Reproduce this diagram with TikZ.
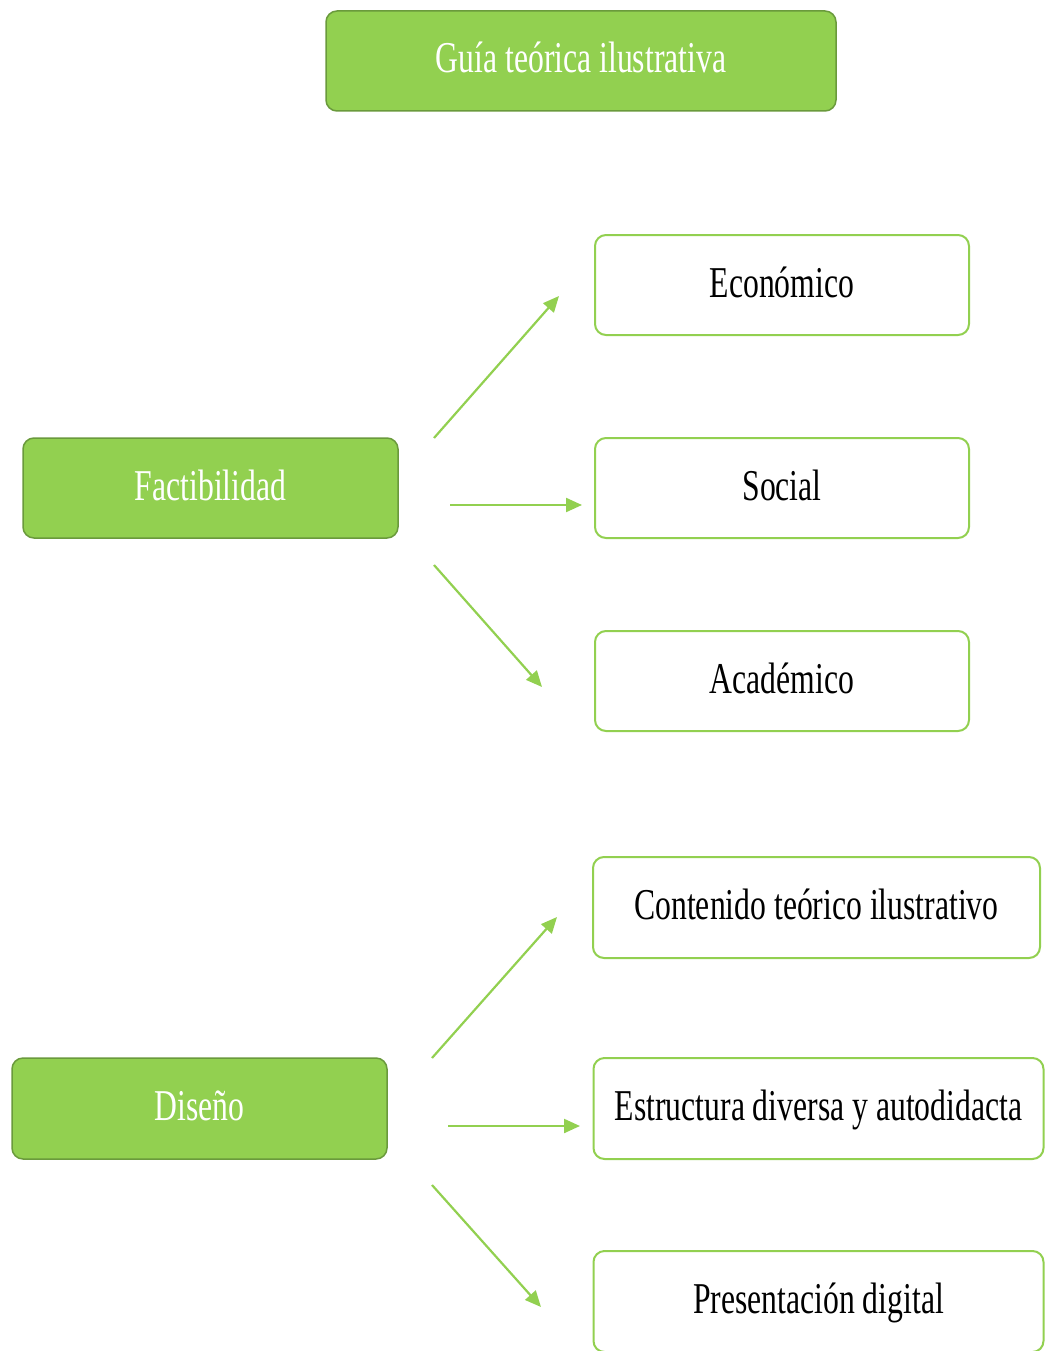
\documentclass[tikz,border=0pt]{standalone}
\usepackage{fontspec}
\setmainfont{Liberation Serif}[FakeStretch=0.72]
\usetikzlibrary{arrows.meta}
\definecolor{lgreen}{HTML}{92D050}
\definecolor{dgreen}{HTML}{6A9A3C}
\tikzset{
  boxtext/.style={inner sep=0pt, text height=32pt, text depth=8pt, font=\fontsize{44}{50}\selectfont},
  mainbox/.style={boxtext, draw=dgreen, line width=1.5pt, fill=lgreen, rounded corners=11pt, text=white},
  subbox/.style={boxtext, draw=lgreen, line width=2pt, fill=white, rounded corners=11pt, text=black},
  conn/.style={draw=lgreen, line width=2.2pt, -{Triangle[length=16pt,width=14pt]}}
}
\begin{document}
\begin{tikzpicture}[x=1pt,y=-1pt]
\useasboundingbox (0,0) rectangle (1045,1351);
\node[mainbox, minimum width=510pt, minimum height=100pt] (guia) at (581,61) {Guía teórica ilustrativa};
\node[mainbox, minimum width=375pt, minimum height=100pt] (fact) at (210.5,488) {Factibilidad};
\node[mainbox, minimum width=375pt, minimum height=101pt] (dis) at (199.5,1108.5) {Diseño};
\node[subbox, minimum width=374pt, minimum height=100pt] (eco) at (782,285) {Económico};
\node[subbox, minimum width=374pt, minimum height=100pt] (soc) at (782,488) {Social};
\node[subbox, minimum width=374pt, minimum height=100pt] (aca) at (782,681) {Académico};
\node[subbox, minimum width=447pt, minimum height=101pt] (cont) at (816.5,907.5) {Contenido teórico ilustrativo};
\node[subbox, minimum width=450pt, minimum height=101pt] (estr) at (818.5,1108.5) {Estructura diversa y autodidacta};
\node[subbox, minimum width=450pt, minimum height=101pt] (pres) at (818.5,1301.5) {Presentación digital};
\coordinate (f1s) at (434,438); \coordinate (f1e) at (559,296);
\coordinate (f2s) at (450,505); \coordinate (f2e) at (582,505);
\coordinate (f3s) at (434,565); \coordinate (f3e) at (542,687);
\coordinate (d1s) at (432,1058); \coordinate (d1e) at (557,917);
\coordinate (d2s) at (448,1126); \coordinate (d2e) at (580,1126);
\coordinate (d3s) at (432,1185); \coordinate (d3e) at (541,1307);
\draw[conn] (f1s) -- (f1e);
\draw[conn] (f2s) -- (f2e);
\draw[conn] (f3s) -- (f3e);
\draw[conn] (d1s) -- (d1e);
\draw[conn] (d2s) -- (d2e);
\draw[conn] (d3s) -- (d3e);
\end{tikzpicture}
\end{document}
